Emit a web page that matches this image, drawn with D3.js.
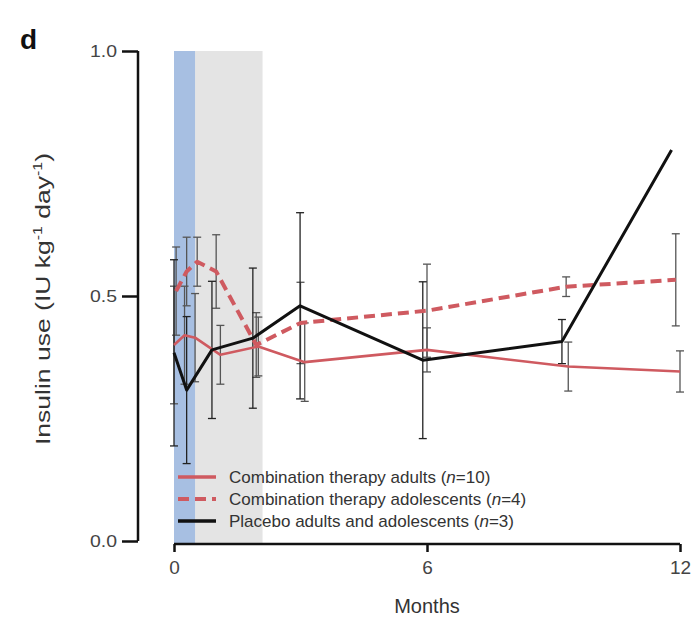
<!DOCTYPE html>
<html>
<head>
<meta charset="utf-8">
<script src="https://cdn.jsdelivr.net/npm/d3@7"></script>
<style>
  html, body { margin: 0; padding: 0; background: #fff; }
  svg { display: block; }
  text { font-family: "Liberation Sans", Arial, sans-serif; }
</style>
</head>
<body>
<svg id="chart" width="693" height="620"></svg>
<script>
// ---- Data ----
const xTicks = [0, 6, 12];
const yTicks = [0.0, 0.5, 1.0];
const yTickLabels = ["0.0", "0.5", "1.0"];

// shaded periods (months)
const bluePeriod = [0, 0.5];
const grayPeriod = [0.5, 2.1];

// Combination therapy adults (n=10)
const adultsMonths = [0, 0.25, 0.5, 1.1, 2.0, 3.1, 6.0, 9.35, 12.0];
const adultsValues = [0.40, 0.42, 0.415, 0.38, 0.397, 0.365, 0.39, 0.356, 0.346];
const adultsErr    = [0.12, 0.10, 0.09, 0.06, 0.06, 0.08, 0.045, 0.05, 0.042];

// Combination therapy adolescents (n=4)
const adolMonths = [0.05, 0.3, 0.55, 1.0, 1.95, 3.0, 6.0, 9.3, 11.9];
const adolValues = [0.51, 0.55, 0.57, 0.55, 0.40, 0.445, 0.47, 0.519, 0.533];
const adolErr    = [0.09, 0.07, 0.05, 0.075, 0.066, 0.083, 0.095, 0.02, 0.094];

// Placebo adults and adolescents (n=3)
const placeboMonths = [0, 0.3, 0.9, 1.87, 2.99, 5.9, 9.2, 11.8];
const placeboValues = [0.384, 0.308, 0.39, 0.414, 0.48, 0.369, 0.407, 0.798];
const placeboErr    = [0.19, 0.15, 0.14, 0.143, 0.19, 0.16, 0.045, null];

const legendLabels = [
  ["Combination therapy adults (", "n", "=10)"],
  ["Combination therapy adolescents (", "n", "=4)"],
  ["Placebo adults and adolescents (", "n", "=3)"]
];

// ---- Drawing ----
const svg = d3.select("#chart");
const x = d3.scaleLinear().domain([0, 12]).range([174, 680]);
const y = d3.scaleLinear().domain([0, 1]).range([541, 51]);

const red = "#cf5a60";

// shaded bands
svg.append("rect")
  .attr("x", x(grayPeriod[0])).attr("y", y(1))
  .attr("width", x(grayPeriod[1]) - x(grayPeriod[0]))
  .attr("height", y(0) - y(1) + 3)
  .attr("fill", "#e4e4e4");
svg.append("rect")
  .attr("x", x(bluePeriod[0])).attr("y", y(1))
  .attr("width", x(bluePeriod[1]) - x(bluePeriod[0]))
  .attr("height", y(0) - y(1) + 3)
  .attr("fill", "#a7bfe2");

function series(months, values, errs) {
  return months.map((m, i) => ({ m, v: values[i], e: errs[i] }));
}
const adults = series(adultsMonths, adultsValues, adultsErr);
const adol = series(adolMonths, adolValues, adolErr);
const placebo = series(placeboMonths, placeboValues, placeboErr);

// error bars
function errorBars(data, color) {
  const g = svg.append("g").attr("stroke", color).attr("stroke-width", 1.3).attr("fill", "none");
  data.filter(d => d.e != null).forEach(d => {
    const cx = x(d.m);
    g.append("line").attr("x1", cx).attr("x2", cx).attr("y1", y(d.v + d.e)).attr("y2", y(d.v - d.e));
    g.append("line").attr("x1", cx - 4).attr("x2", cx + 4).attr("y1", y(d.v + d.e)).attr("y2", y(d.v + d.e));
    g.append("line").attr("x1", cx - 4).attr("x2", cx + 4).attr("y1", y(d.v - d.e)).attr("y2", y(d.v - d.e));
  });
}
errorBars(adults, "#555");
errorBars(adol, "#555");
errorBars(placebo, "#222");

const line = d3.line().x(d => x(d.m)).y(d => y(d.v));

svg.append("path").datum(adults).attr("d", line)
  .attr("fill", "none").attr("stroke", red).attr("stroke-width", 2.6).attr("stroke-linejoin", "round");
svg.append("path").datum(adol).attr("d", line)
  .attr("fill", "none").attr("stroke", red).attr("stroke-width", 4).attr("stroke-dasharray", "11,6").attr("stroke-linejoin", "round");
svg.append("path").datum(placebo).attr("d", line)
  .attr("fill", "none").attr("stroke", "#111").attr("stroke-width", 3).attr("stroke-linejoin", "round");

// axes
const yAxis = d3.axisLeft(y).tickValues(yTicks).tickFormat((d, i) => yTickLabels[i]).tickSize(16).tickPadding(5);
const gy = svg.append("g").attr("transform", "translate(138,0)").call(yAxis);
gy.select(".domain").attr("stroke", "#111").attr("stroke-width", 2.5).attr("d", `M0,${y(1)}V${y(0)}`);
gy.selectAll(".tick line").attr("stroke", "#111").attr("stroke-width", 2.5);
gy.selectAll(".tick text").attr("font-size", 17).attr("fill", "#444")
  .attr("font-family", "Liberation Sans, Arial, sans-serif")
  .attr("textLength", 27).attr("lengthAdjust", "spacingAndGlyphs");

const xAxis = d3.axisBottom(x).tickValues(xTicks).tickFormat(d3.format("d")).tickSize(8).tickPadding(9);
const gx = svg.append("g").attr("transform", `translate(0,${y(0) + 3})`).call(xAxis);
gx.select(".domain").attr("stroke", "#111").attr("stroke-width", 2.5).attr("d", `M${x(0)},0H${x(12)}`);
gx.selectAll(".tick line").attr("stroke", "#111").attr("stroke-width", 2.5);
gx.selectAll(".tick text").attr("font-size", 19).attr("fill", "#444").attr("font-family", "Liberation Sans, Arial, sans-serif");

// axis titles
svg.append("text").attr("x", x(6)).attr("y", 613).attr("text-anchor", "middle")
  .attr("font-size", 20).attr("fill", "#333").text("Months");

const yl = svg.append("text").attr("transform", "translate(50,299) rotate(-90)")
  .attr("text-anchor", "middle").attr("font-size", 20).attr("fill", "#333")
  .attr("textLength", 292).attr("lengthAdjust", "spacingAndGlyphs");
yl.append("tspan").text("Insulin use (IU kg");
yl.append("tspan").attr("dy", -8).attr("font-size", 12).text("-1");
yl.append("tspan").attr("dy", 8).text(" day");
yl.append("tspan").attr("dy", -8).attr("font-size", 12).text("-1");
yl.append("tspan").attr("dy", 8).text(")");

// panel letter
svg.append("text").attr("x", 20).attr("y", 49).attr("font-size", 28).attr("font-weight", "bold")
  .attr("fill", "#111").text("d");

// legend
const legendY = [477, 499, 521];
const legendStyles = [
  { stroke: red, width: 3.5, dash: null },
  { stroke: red, width: 4, dash: "11,6" },
  { stroke: "#111", width: 3.5, dash: null }
];
legendLabels.forEach((lab, i) => {
  const st = legendStyles[i];
  svg.append("line").attr("x1", 178).attr("x2", 216).attr("y1", legendY[i]).attr("y2", legendY[i])
    .attr("stroke", st.stroke).attr("stroke-width", st.width).attr("stroke-dasharray", st.dash);
  const t = svg.append("text").attr("x", 229).attr("y", legendY[i] + 6).attr("font-size", 17).attr("fill", "#333");
  t.append("tspan").text(lab[0]);
  t.append("tspan").attr("font-style", "italic").text(lab[1]);
  t.append("tspan").text(lab[2]);
});
</script>
</body>
</html>
